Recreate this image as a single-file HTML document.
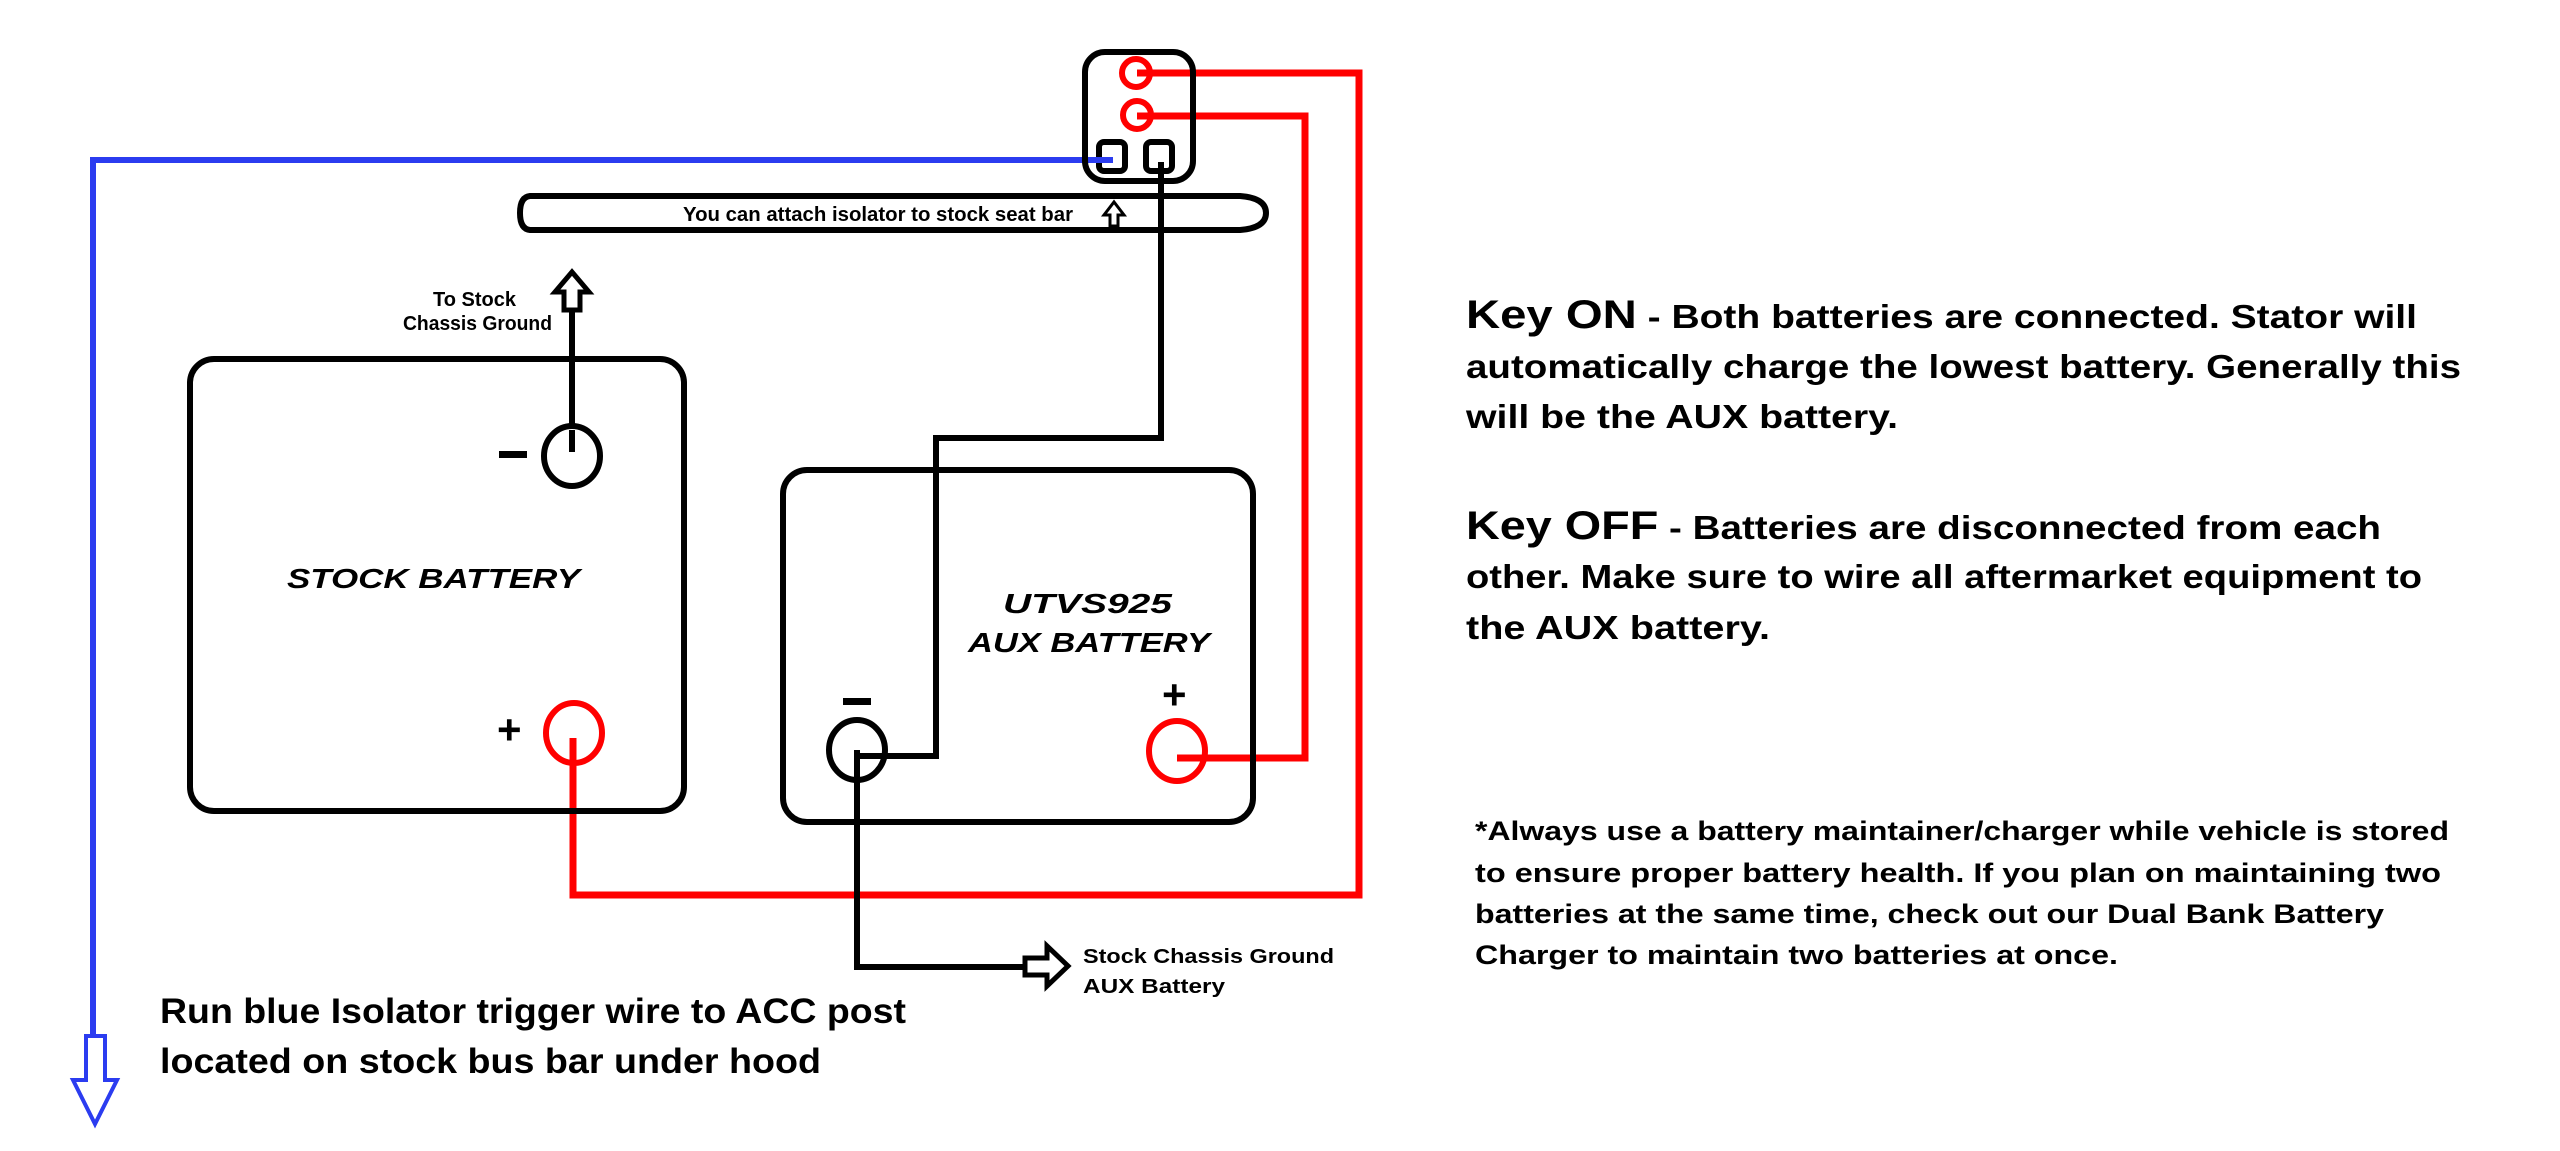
<!DOCTYPE html>
<html><head><meta charset="utf-8"><style>
html,body{margin:0;padding:0;background:#fff;}
svg{display:block;}
text{font-family:"Liberation Sans",sans-serif;font-weight:bold;fill:#000;}
</style></head><body>
<svg width="2560" height="1151" viewBox="0 0 2560 1151" xmlns="http://www.w3.org/2000/svg">
<!-- seat bar -->
<path d="M530,196 L1240,196 Q1266,198 1266,213 Q1266,228 1240,230 L530,230 Q520,229 520,213 Q520,197 530,196 Z" fill="#fff" stroke="#000" stroke-width="6"/>
<text x="683" y="221" font-size="20" textLength="390" lengthAdjust="spacingAndGlyphs">You can attach isolator to stock seat bar</text>
<path d="M1110,226 L1110,215 L1104,215 L1114,202 L1124,215 L1118,215 L1118,226 Z" fill="#fff" stroke="#000" stroke-width="3"/>
<!-- wires -->
<g fill="none" stroke-linejoin="miter">
<polyline points="1113,160 93,160 93,1036" stroke="#2b3cf0" stroke-width="6"/>
<polyline points="1137,73 1359,73 1359,895 573,895 573,738" stroke="#f00" stroke-width="7"/>
<polyline points="1137,116 1305,116 1305,758 1177,758" stroke="#f00" stroke-width="7"/>
<polyline points="1161,162 1161,438 936,438 936,756 857,756" stroke="#000" stroke-width="6"/>
<polyline points="857,750 857,967 1033,967" stroke="#000" stroke-width="6"/>
<line x1="572" y1="452" x2="572" y2="290" stroke="#000" stroke-width="6"/>
</g>
<!-- blue arrow -->
<path d="M86,1036 L105,1036 L105,1080 L117,1080 L95,1124 L73,1080 L86,1080 Z" fill="#fff" stroke="#2b3cf0" stroke-width="4"/>
<!-- ground arrow right -->
<path d="M1025,958 L1047,958 L1047,946 L1068,966 L1047,986 L1047,975 L1025,975 Z" fill="#fff" stroke="#000" stroke-width="5"/>
<!-- up arrow to stock chassis -->
<path d="M564,310 L564,292 L555,292 L572,272 L589,292 L580,292 L580,310 Z" fill="#fff" stroke="#000" stroke-width="5"/>
<!-- isolator -->
<rect x="1085" y="52" width="108" height="129" rx="20" fill="none" stroke="#000" stroke-width="6"/>
<circle cx="1136" cy="73" r="14" fill="none" stroke="#f00" stroke-width="6"/>
<circle cx="1137" cy="115" r="14" fill="none" stroke="#f00" stroke-width="6"/>
<rect x="1099" y="142" width="26" height="29" rx="5" fill="none" stroke="#000" stroke-width="6"/>
<rect x="1146" y="142" width="26" height="29" rx="5" fill="none" stroke="#000" stroke-width="6"/>
<line x1="1113" y1="160" x2="1090" y2="160" stroke="#2b3cf0" stroke-width="6"/>
<!-- stock battery -->
<rect x="190" y="359" width="494" height="452" rx="24" fill="none" stroke="#000" stroke-width="6"/>
<ellipse cx="572" cy="456" rx="28" ry="30" fill="#fff" stroke="#000" stroke-width="6"/>
<line x1="572" y1="430" x2="572" y2="452" stroke="#000" stroke-width="6"/>
<rect x="499" y="451" width="28" height="7" fill="#000"/>
<ellipse cx="574" cy="733" rx="28" ry="30" fill="none" stroke="#f00" stroke-width="6"/>
<text x="497" y="744" font-size="42">+</text>
<text x="287" y="588" font-size="28" font-style="italic" textLength="293" lengthAdjust="spacingAndGlyphs">STOCK BATTERY</text>
<text x="433" y="306" font-size="20" textLength="83" lengthAdjust="spacingAndGlyphs">To Stock</text>
<text x="403" y="330" font-size="20" textLength="149" lengthAdjust="spacingAndGlyphs">Chassis Ground</text>
<!-- aux battery -->
<rect x="783" y="470" width="470" height="352" rx="24" fill="none" stroke="#000" stroke-width="6"/>
<ellipse cx="857" cy="750" rx="28" ry="30" fill="none" stroke="#000" stroke-width="6"/>
<rect x="843" y="698" width="28" height="7" fill="#000"/>
<ellipse cx="1177" cy="751" rx="28" ry="30" fill="none" stroke="#f00" stroke-width="6"/>
<text x="1162" y="709" font-size="42">+</text>
<text x="1003" y="613" font-size="28" font-style="italic" textLength="169" lengthAdjust="spacingAndGlyphs">UTVS925</text>
<text x="968" y="652" font-size="28" font-style="italic" textLength="242" lengthAdjust="spacingAndGlyphs">AUX BATTERY</text>
<!-- bottom labels -->
<text x="1083" y="963" font-size="20" textLength="251" lengthAdjust="spacingAndGlyphs">Stock Chassis Ground</text>
<text x="1083" y="993" font-size="20" textLength="142" lengthAdjust="spacingAndGlyphs">AUX Battery</text>
<text x="160" y="1023" font-size="35" textLength="746" lengthAdjust="spacingAndGlyphs">Run blue Isolator trigger wire to ACC post</text>
<text x="160" y="1073" font-size="35" textLength="661" lengthAdjust="spacingAndGlyphs">located on stock bus bar under hood</text>
<!-- right text -->
<text x="1466" y="328" font-size="33" textLength="951" lengthAdjust="spacingAndGlyphs"><tspan font-size="40">Key ON</tspan> - Both batteries are connected. Stator will</text>
<text x="1466" y="378" font-size="33" textLength="995" lengthAdjust="spacingAndGlyphs">automatically charge the lowest battery. Generally this</text>
<text x="1466" y="428" font-size="33" textLength="432" lengthAdjust="spacingAndGlyphs">will be the AUX battery.</text>
<text x="1466" y="539" font-size="33" textLength="915" lengthAdjust="spacingAndGlyphs"><tspan font-size="40">Key OFF</tspan> - Batteries are disconnected from each</text>
<text x="1466" y="588" font-size="33" textLength="956" lengthAdjust="spacingAndGlyphs">other. Make sure to wire all aftermarket equipment to</text>
<text x="1466" y="639" font-size="33" textLength="304" lengthAdjust="spacingAndGlyphs">the AUX battery.</text>
<text x="1475" y="840" font-size="27" textLength="974" lengthAdjust="spacingAndGlyphs">*Always use a battery maintainer/charger while vehicle is stored</text>
<text x="1475" y="882" font-size="27" textLength="966" lengthAdjust="spacingAndGlyphs">to ensure proper battery health. If you plan on maintaining two</text>
<text x="1475" y="923" font-size="27" textLength="909" lengthAdjust="spacingAndGlyphs">batteries at the same time, check out our Dual Bank Battery</text>
<text x="1475" y="964" font-size="27" textLength="643" lengthAdjust="spacingAndGlyphs">Charger to maintain two batteries at once.</text>
</svg>
</body></html>
